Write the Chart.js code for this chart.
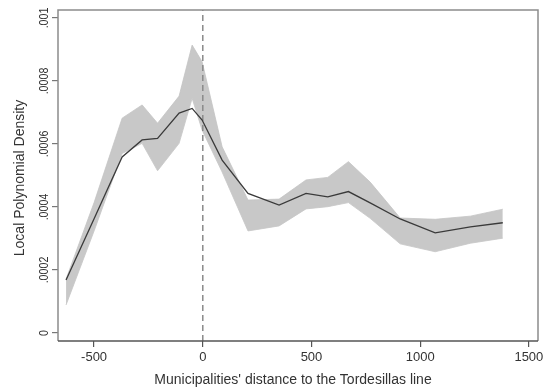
<!DOCTYPE html>
<html>
<head>
<meta charset="utf-8">
<script src="https://cdn.jsdelivr.net/npm/chart.js@4.4.1/dist/chart.umd.min.js"></script>
<style>
  html, body { margin: 0; padding: 0; background: #ffffff; }
  #wrap { width: 550px; height: 391px; position: relative; }
</style>
</head>
<body>
<div id="wrap"><canvas id="c" width="550" height="391"></canvas></div>
<script>
// Evaluation points (km from the Tordesillas line)
const distance = [-629, -500, -371, -279, -208, -109, -49, -3, 89, 208, 351, 475, 575, 670, 770, 908, 1069, 1231, 1380];
// Local polynomial density estimate
const density = [0.000168, 0.000363, 0.000559, 0.000613, 0.000618, 0.000698, 0.000713, 0.000676, 0.000549, 0.000443,
                 0.000406, 0.000443, 0.000432, 0.000449, 0.000413, 0.000362, 0.000318, 0.000337, 0.000350];
// Confidence band
const ciUpper = [0.000171, 0.000414, 0.000682, 0.000724, 0.000666, 0.000752, 0.000914, 0.000861, 0.000591, 0.000422,
                 0.000425, 0.000486, 0.000494, 0.000544, 0.000479, 0.000365, 0.000361, 0.000371, 0.000393];
const ciLower = [0.000089, 0.000324, 0.000570, 0.000602, 0.000515, 0.000602, 0.000745, 0.000644, 0.000511, 0.000324,
                 0.000340, 0.000394, 0.000401, 0.000414, 0.000364, 0.000283, 0.000258, 0.000285, 0.000301];

const xTicks = [-500, 0, 500, 1000, 1500];
const yTicks = [0, 0.0002, 0.0004, 0.0006, 0.0008, 0.001];
const yTickLabels = ['0', '.0002', '.0004', '.0006', '.0008', '.001'];
const cutoff = 0;

const xTitle = "Municipalities' distance to the Tordesillas line";
const yTitle = 'Local Polynomial Density';

const pts = (ys) => distance.map((d, i) => ({ x: d, y: ys[i] }));

const FONT = "'Liberation Sans', Arial, Helvetica, sans-serif";
const X_MIN = -666, X_MAX = 1542, Y_MIN = -0.0000254, Y_MAX = 0.0010254;

// Frame, rotated y labels and titles
const decorations = {
  id: 'decorations',
  afterDraw(chart) {
    const { ctx, chartArea: a, scales } = chart;
    const ys = scales.y;
    ctx.save();
    // plot region outline
    ctx.strokeStyle = '#8c8c8c';
    ctx.lineWidth = 1.5;
    ctx.beginPath();
    ctx.moveTo(a.left, a.bottom);
    ctx.lineTo(a.left, a.top);
    ctx.lineTo(a.right, a.top);
    ctx.lineTo(a.right, a.bottom);
    ctx.stroke();
    ctx.strokeStyle = '#555555';
    ctx.beginPath();
    ctx.moveTo(a.left, a.bottom);
    ctx.lineTo(a.right, a.bottom);
    ctx.stroke();

    // y tick labels, vertical
    ctx.fillStyle = '#333333';
    ctx.font = '13px ' + FONT;
    ctx.textAlign = 'center';
    ctx.textBaseline = 'middle';
    yTicks.forEach((v, i) => {
      const py = ys.getPixelForValue(v);
      ctx.save();
      ctx.translate(44, py);
      ctx.rotate(-Math.PI / 2);
      ctx.scale(0.82, 1);
      ctx.fillText(yTickLabels[i], 0, 0);
      ctx.restore();
    });

    // y title
    ctx.font = '14px ' + FONT;
    ctx.save();
    ctx.translate(20, 178);
    ctx.rotate(-Math.PI / 2);
    ctx.fillText(yTitle, 0, 0);
    ctx.restore();

    // x title
    ctx.fillText(xTitle, 293, 380);
    ctx.restore();
  }
};

new Chart(document.getElementById('c'), {
  type: 'line',
  data: {
    datasets: [
      {
        label: 'upper',
        data: pts(ciUpper),
        borderColor: '#c4c4c4',
        borderWidth: 0.8,
        backgroundColor: '#c8c8c8',
        fill: '+1',
        pointRadius: 0,
        tension: 0,
        order: 3
      },
      {
        label: 'lower',
        data: pts(ciLower),
        borderColor: '#c4c4c4',
        borderWidth: 0.8,
        backgroundColor: '#c8c8c8',
        fill: false,
        pointRadius: 0,
        tension: 0,
        order: 3
      },
      {
        label: 'cutoff',
        data: [{ x: cutoff, y: Y_MIN }, { x: cutoff, y: Y_MAX }],
        borderColor: '#8a8a8a',
        borderWidth: 1.5,
        borderDash: [6, 4],
        fill: false,
        pointRadius: 0,
        order: 2
      },
      {
        label: 'density',
        data: pts(density),
        borderColor: '#3a3a3a',
        borderWidth: 1.3,
        fill: false,
        pointRadius: 0,
        tension: 0,
        order: 1
      }
    ]
  },
  options: {
    responsive: false,
    animation: false,
    events: [],
    layout: { padding: { top: 10, right: 12, left: 0, bottom: 0 } },
    plugins: { legend: { display: false }, tooltip: { enabled: false } },
    scales: {
      x: {
        type: 'linear',
        min: X_MIN,
        max: X_MAX,
        afterBuildTicks(scale) { scale.ticks = xTicks.map(v => ({ value: v })); },
        afterFit(scale) { scale.height = 50; },
        border: { display: false },
        grid: { drawOnChartArea: false, drawTicks: true, tickLength: 6, color: '#555555', lineWidth: 1.2 },
        ticks: {
          color: '#333333',
          font: { family: FONT, size: 13 },
          padding: 3,
          maxRotation: 0,
          callback: (v) => String(v)
        }
      },
      y: {
        type: 'linear',
        min: Y_MIN,
        max: Y_MAX,
        afterBuildTicks(scale) { scale.ticks = yTicks.map(v => ({ value: v })); },
        afterFit(scale) { scale.width = 58; },
        border: { display: false },
        grid: { drawOnChartArea: false, drawTicks: true, tickLength: 6, color: '#777777', lineWidth: 1.2 },
        ticks: { display: false }
      }
    }
  },
  plugins: [decorations]
});
</script>
</body>
</html>
